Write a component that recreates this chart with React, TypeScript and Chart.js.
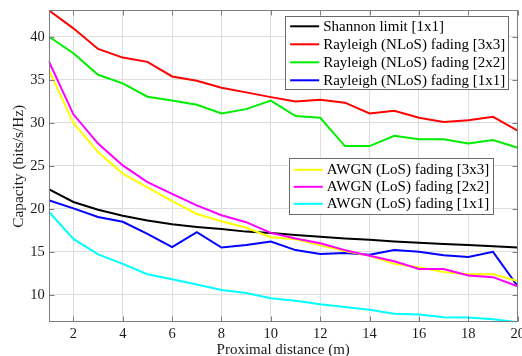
import { useEffect, useRef } from "react";
import { Chart, registerables } from "chart.js";

Chart.register(...registerables);

// Proximal distance in metres
const distances = [1, 2, 3, 4, 5, 6, 7, 8, 9, 10, 11, 12, 13, 14, 15, 16, 17, 18, 19, 20];
const xTicks = [2, 4, 6, 8, 10, 12, 14, 16, 18, 20];
const yTicks = [10, 15, 20, 25, 30, 35, 40];

// Capacity (bits/s/Hz) per scheme
const shannon1x1 = [22.3, 20.8, 19.9, 19.2, 18.65, 18.2, 17.9, 17.65, 17.35, 17.2, 16.95, 16.75, 16.55, 16.4, 16.2, 16.05, 15.9, 15.8, 15.65, 15.5];
const rayleigh3x3 = [43.1, 41.0, 38.6, 37.6, 37.1, 35.4, 34.9, 34.1, 33.55, 33.0, 32.5, 32.7, 32.35, 31.1, 31.4, 30.6, 30.1, 30.3, 30.7, 29.1];
const rayleigh2x2 = [40.05, 38.1, 35.6, 34.6, 33.05, 32.6, 32.1, 31.1, 31.6, 32.6, 30.8, 30.6, 27.3, 27.3, 28.5, 28.1, 28.1, 27.6, 28.0, 27.1];
const rayleigh1x1 = [21.0, 20.05, 19.05, 18.5, 17.1, 15.55, 17.3, 15.5, 15.8, 16.2, 15.2, 14.75, 14.85, 14.65, 15.2, 15.0, 14.6, 14.4, 15.0, 11.0];
const awgn3x3 = [36.2, 30.0, 26.6, 24.1, 22.5, 20.9, 19.4, 18.55, 17.8, 16.7, 16.45, 15.75, 15.1, 14.55, 13.6, 13.2, 12.65, 12.4, 12.4, 11.6];
const awgn2x2 = [37.2, 31.0, 27.6, 25.05, 23.1, 21.75, 20.4, 19.25, 18.45, 17.2, 16.55, 16.0, 15.2, 14.55, 13.9, 13.0, 13.0, 12.25, 12.05, 11.0];
const awgn1x1 = [19.7, 16.5, 14.7, 13.6, 12.4, 11.8, 11.2, 10.55, 10.2, 9.6, 9.3, 8.9, 8.57, 8.25, 7.8, 7.7, 7.4, 7.35, 7.15, 6.8];

const seriesLabels = [
  "Shannon limit [1x1]",
  "Rayleigh (NLoS) fading [3x3]",
  "Rayleigh (NLoS) fading [2x2]",
  "Rayleigh (NLoS) fading [1x1]",
  "AWGN (LoS) fading [3x3]",
  "AWGN (LoS) fading [2x2]",
  "AWGN (LoS) fading [1x1]",
];
const seriesData = [shannon1x1, rayleigh3x3, rayleigh2x2, rayleigh1x1, awgn3x3, awgn2x2, awgn1x1];
const seriesColors = ["#000000", "#ff0000", "#00ee00", "#0000ff", "#ffff00", "#ff00ff", "#00ffff"];

// Two legend panels: series indices in each
const legendGroups = [
  [0, 1, 2, 3],
  [4, 5, 6],
];

const FONT_FAMILY = '"Liberation Serif", "Times New Roman", serif';
const TEXT_COLOR = "#1a1a1a";
const FRAME_COLOR = "#7d7d7d";

const framePlugin = {
  id: "frameBox",
  afterDatasetsDraw(chart: any) {
    const { ctx, chartArea: a, scales } = chart;
    ctx.save();
    ctx.strokeStyle = FRAME_COLOR;
    ctx.lineWidth = 1;
    const l = Math.round(a.left) + 0.5;
    const r = Math.round(a.right) - 0.5;
    const t = Math.round(a.top) + 0.5;
    const b = Math.round(a.bottom) - 0.5;
    ctx.strokeRect(l, t, r - l, b - t);
    const tl = 5;
    ctx.beginPath();
    for (const v of xTicks) {
      const px = Math.round(scales.x.getPixelForValue(v)) + 0.5;
      ctx.moveTo(px, t);
      ctx.lineTo(px, t + tl);
      ctx.moveTo(px, b);
      ctx.lineTo(px, b - tl);
    }
    for (const v of yTicks) {
      const py = Math.round(scales.y.getPixelForValue(v)) + 0.5;
      ctx.moveTo(l, py);
      ctx.lineTo(l + tl, py);
      ctx.moveTo(r, py);
      ctx.lineTo(r - tl, py);
    }
    ctx.stroke();
    ctx.restore();
  },
};

// Panels are placed relative to the plot area's right/top edges
const panelLayout = [
  { right: 9.5, top: 5.5, row: 18, firstRow: 10.5 },
  { right: 25.5, top: 147.5, row: 17, firstRow: 12 },
];

const legendPlugin = {
  id: "legendPanels",
  afterDraw(chart: any) {
    const { ctx, chartArea: a } = chart;
    ctx.save();
    ctx.font = `15px ${FONT_FAMILY}`;
    legendGroups.forEach((group, gi) => {
      const lay = panelLayout[gi];
      const maxW = Math.max(...group.map((i) => ctx.measureText(seriesLabels[i]).width));
      const width = 38 + maxW + 3;
      const height = lay.firstRow + lay.row * (group.length - 1) + lay.firstRow - 2;
      const right = a.right - lay.right;
      const left = right - width;
      const top = a.top + lay.top;
      ctx.fillStyle = "#ffffff";
      ctx.fillRect(left, top, width, height);
      ctx.strokeStyle = "#6a6a6a";
      ctx.lineWidth = 1;
      ctx.strokeRect(Math.round(left) + 0.5, Math.round(top) + 0.5, Math.round(width), Math.round(height));
      group.forEach((si, k) => {
        const y = top + lay.firstRow + k * lay.row;
        ctx.strokeStyle = seriesColors[si];
        ctx.lineWidth = 2;
        ctx.beginPath();
        ctx.moveTo(left + 5, y);
        ctx.lineTo(left + 34, y);
        ctx.stroke();
        ctx.fillStyle = "#000000";
        ctx.textBaseline = "middle";
        ctx.textAlign = "left";
        ctx.fillText(seriesLabels[si], left + 38, y + 0.5);
      });
    });
    ctx.restore();
  },
};

export default function App() {
  const canvasRef = useRef<HTMLCanvasElement | null>(null);

  useEffect(() => {
    const canvas = canvasRef.current;
    if (!canvas) return;
    const chart = new Chart(canvas, {
      type: "line",
      data: {
        datasets: seriesData.map((vals, i) => ({
          label: seriesLabels[i],
          data: distances.map((d, j) => ({ x: d, y: vals[j] })),
          borderColor: seriesColors[i],
          backgroundColor: seriesColors[i],
          borderWidth: 2,
          pointRadius: 0,
          tension: 0,
          fill: false,
          order: seriesData.length - i,
        })),
      },
      options: {
        responsive: false,
        animation: false,
        events: [],
        layout: { padding: { top: 10.3, right: 4.3, left: 0, bottom: 0 } },
        plugins: {
          legend: { display: false },
          tooltip: { enabled: false },
          title: { display: false },
        },
        scales: {
          x: {
            type: "linear",
            min: 1,
            max: 20,
            afterBuildTicks: (scale: any) => {
              scale.ticks = xTicks.map((v) => ({ value: v }));
            },
            afterFit: (scale: any) => {
              scale.height = 33.7;
              scale.paddingLeft = 0;
              scale.paddingRight = 0;
            },
            grid: { color: "#dedede", lineWidth: 1, drawTicks: false },
            border: { display: false },
            ticks: {
              padding: 3,
              color: TEXT_COLOR,
              font: { family: FONT_FAMILY, size: 14.5 },
              maxRotation: 0,
              autoSkip: false,
            },
            title: {
              display: true,
              text: "Proximal distance (m)",
              color: TEXT_COLOR,
              font: { family: FONT_FAMILY, size: 15 },
              padding: { top: 0, bottom: -3 },
            },
          },
          y: {
            type: "linear",
            min: 6.8,
            max: 43.1,
            afterBuildTicks: (scale: any) => {
              scale.ticks = yTicks.map((v) => ({ value: v }));
            },
            afterFit: (scale: any) => {
              scale.width = 48.7;
              scale.paddingTop = 0;
              scale.paddingBottom = 0;
            },
            grid: { color: "#dedede", lineWidth: 1, drawTicks: false },
            border: { display: false },
            ticks: {
              padding: 4,
              color: TEXT_COLOR,
              font: { family: FONT_FAMILY, size: 14.5 },
              autoSkip: false,
            },
            title: {
              display: true,
              text: "Capacity (bits/s/Hz)",
              color: TEXT_COLOR,
              font: { family: FONT_FAMILY, size: 15.3 },
              padding: { top: 10, bottom: 0 },
            },
          },
        },
      },
      plugins: [framePlugin, legendPlugin],
    });
    return () => chart.destroy();
  }, []);

  return (
    <div style={{ position: "absolute", left: 0, top: 0, width: 522, height: 356, background: "#ffffff" }}>
      <canvas ref={canvasRef} width={522} height={356} style={{ display: "block" }} />
    </div>
  );
}
